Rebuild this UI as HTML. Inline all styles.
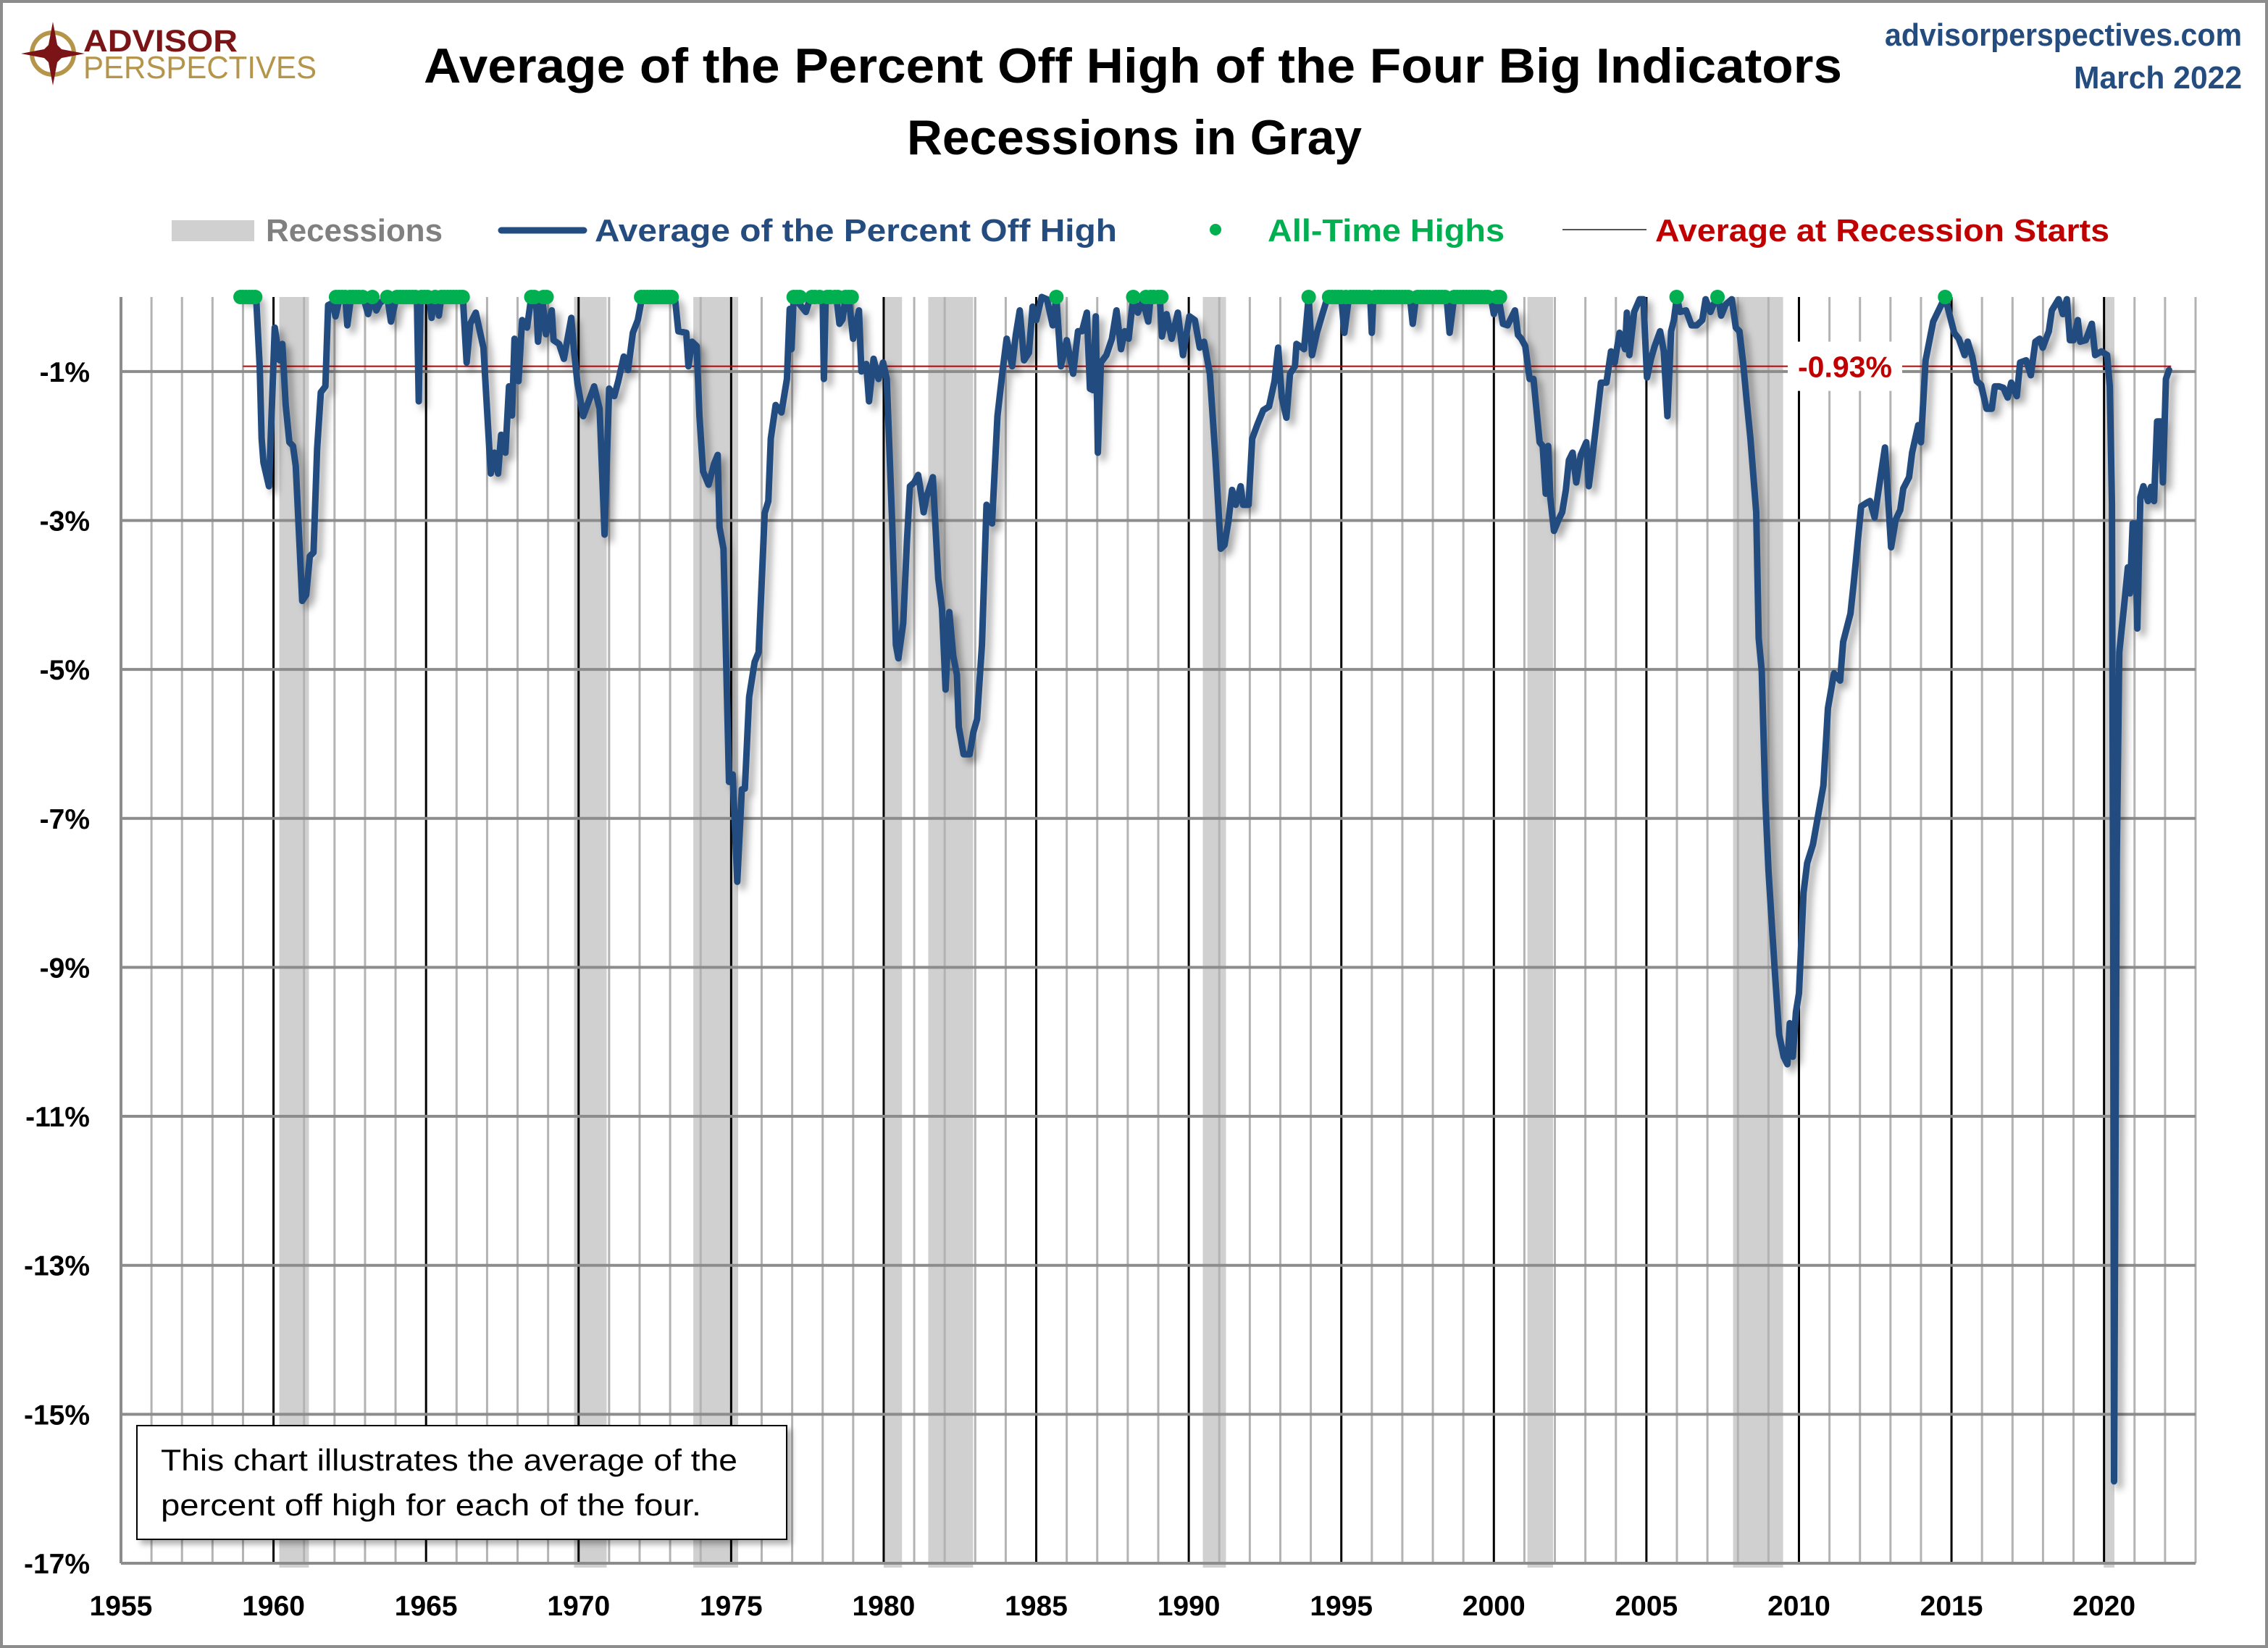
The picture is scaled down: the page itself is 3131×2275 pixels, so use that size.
<!DOCTYPE html>
<html><head><meta charset="utf-8">
<style>
html,body{margin:0;padding:0;background:#fff;}
svg{display:block;font-family:"Liberation Sans",sans-serif;}
</style></head>
<body>
<svg id="chart" width="3131" height="2275" viewBox="0 0 3131 2275" xmlns="http://www.w3.org/2000/svg">
<defs>
<filter id="sh" x="-5%" y="-5%" width="110%" height="110%"><feDropShadow dx="7" dy="7" stdDeviation="5" flood-color="#000" flood-opacity="0.35"/></filter>
<filter id="bsh" x="-5%" y="-5%" width="110%" height="120%"><feDropShadow dx="6" dy="6" stdDeviation="4" flood-color="#000" flood-opacity="0.3"/></filter>
</defs>
<rect x="2" y="2" width="3127" height="2271" fill="#fff" stroke="#8c8c8c" stroke-width="4"/>
<g id="logo">
<circle cx="73" cy="74" r="29" fill="none" stroke="#b4954a" stroke-width="6"/>
<polygon points="73,30 80,67 117,74 80,81 73,118 66,81 29,74 66,67" fill="#7b1416"/>
<polygon points="73,56 91,74 73,92 55,74" fill="#7b1416"/>
<text x="115" y="71" font-size="43" font-weight="bold" fill="#7b1416" textLength="213" lengthAdjust="spacingAndGlyphs">ADVISOR</text>
<text x="115" y="108" font-size="44" fill="#b4954a" textLength="322" lengthAdjust="spacingAndGlyphs">PERSPECTIVES</text>
</g>
<text x="585" y="114" font-size="68" font-weight="bold" fill="#000" textLength="1958" lengthAdjust="spacingAndGlyphs">Average of the Percent Off High of the Four Big Indicators</text>
<text x="1252" y="213" font-size="68" font-weight="bold" fill="#000" textLength="628" lengthAdjust="spacingAndGlyphs">Recessions in Gray</text>
<text x="3095" y="63" text-anchor="end" font-size="44" font-weight="bold" fill="#254c7f" textLength="493" lengthAdjust="spacingAndGlyphs">advisorperspectives.com</text>
<text x="3095" y="122" text-anchor="end" font-size="44" font-weight="bold" fill="#254c7f" textLength="232" lengthAdjust="spacingAndGlyphs">March 2022</text>

<g>
<rect x="237" y="304" width="114" height="29" fill="#d0d0d0"/>
<text x="367" y="333" font-size="44" font-weight="bold" fill="#808080" textLength="244" lengthAdjust="spacingAndGlyphs">Recessions</text>
<line x1="692" y1="318" x2="806" y2="318" stroke="#234c80" stroke-width="9" stroke-linecap="round"/>
<text x="821" y="333" font-size="44" font-weight="bold" fill="#254c7f" textLength="721" lengthAdjust="spacingAndGlyphs">Average of the Percent Off High</text>
<circle cx="1678" cy="317" r="8" fill="#00b050"/>
<text x="1750" y="333" font-size="44" font-weight="bold" fill="#00b050" textLength="327" lengthAdjust="spacingAndGlyphs">All-Time Highs</text>
<line x1="2157" y1="317" x2="2273" y2="317" stroke="#555" stroke-width="2"/>
<text x="2285" y="333" font-size="44" font-weight="bold" fill="#c00000" textLength="627" lengthAdjust="spacingAndGlyphs">Average at Recession Starts</text>
</g>
<g id="bands"></g>
<g id="grid"></g>
<g id="refline"></g>
<g id="series" filter="url(#sh)"></g>
<g id="dots"></g>
<g id="axes"></g>
<g filter="url(#bsh)">
<rect x="189" y="1968" width="897" height="157" fill="#fff" stroke="#000" stroke-width="2"/>
</g>
<text x="222" y="2030" font-size="42" fill="#000" textLength="796" lengthAdjust="spacingAndGlyphs">This chart illustrates the average of the</text>
<text x="222" y="2092" font-size="42" fill="#000" textLength="746" lengthAdjust="spacingAndGlyphs">percent off high for each of the four.</text>
</svg>
<script>
const years = [1958.92,1959.43,1959.55,1959.61,1959.67,1959.85,1960.04,1960.2,1960.29,1960.4,1960.52,1960.64,1960.73,1960.82,1960.94,1961.07,1961.19,1961.31,1961.43,1961.55,1961.7,1961.79,1961.94,1962.03,1962.18,1962.35,1962.42,1962.54,1962.94,1963.1,1963.24,1963.37,1963.49,1963.73,1963.85,1964.03,1964.7,1964.76,1964.82,1965.1,1965.18,1965.28,1965.36,1965.42,1965.5,1966.21,1966.33,1966.45,1966.63,1966.88,1967.12,1967.24,1967.36,1967.46,1967.6,1967.72,1967.82,1967.9,1968.03,1968.15,1968.31,1968.45,1968.6,1968.67,1968.81,1968.93,1969.12,1969.18,1969.36,1969.52,1969.76,1969.84,1969.96,1970.15,1970.33,1970.51,1970.69,1970.85,1971.0,1971.17,1971.3,1971.48,1971.62,1971.78,1971.94,1972.08,1973.05,1973.17,1973.27,1973.53,1973.6,1973.72,1973.87,1973.96,1974.08,1974.26,1974.44,1974.56,1974.62,1974.75,1974.93,1975.05,1975.2,1975.35,1975.45,1975.59,1975.77,1975.9,1976.1,1976.22,1976.3,1976.46,1976.65,1976.83,1976.92,1976.98,1977.05,1977.45,1977.6,1978.0,1978.04,1978.1,1978.45,1978.55,1978.65,1978.75,1978.85,1979.0,1979.19,1979.27,1979.43,1979.52,1979.67,1979.83,1979.98,1980.1,1980.28,1980.4,1980.48,1980.64,1980.76,1980.86,1981.0,1981.13,1981.19,1981.31,1981.4,1981.61,1981.79,1981.91,1982.03,1982.15,1982.28,1982.4,1982.46,1982.62,1982.82,1982.94,1983.06,1983.22,1983.37,1983.55,1983.73,1983.91,1984.03,1984.21,1984.33,1984.46,1984.6,1984.76,1984.88,1985.0,1985.18,1985.35,1985.54,1985.66,1985.81,1986.0,1986.21,1986.37,1986.5,1986.66,1986.76,1986.86,1986.95,1987.02,1987.12,1987.3,1987.48,1987.63,1987.78,1987.9,1988.03,1988.18,1988.33,1988.5,1988.67,1988.75,1989.05,1989.12,1989.27,1989.44,1989.64,1989.81,1990.02,1990.2,1990.36,1990.5,1990.69,1990.87,1991.05,1991.17,1991.3,1991.42,1991.54,1991.7,1991.78,1991.96,1992.08,1992.26,1992.44,1992.63,1992.81,1992.93,1993.05,1993.2,1993.32,1993.48,1993.53,1993.78,1993.93,1994.04,1994.2,1994.38,1994.55,1995.0,1995.1,1995.25,1995.95,1996.0,1996.05,1997.25,1997.34,1997.45,1998.45,1998.55,1998.7,1999.9,2000.0,2000.15,2000.3,2000.45,2000.69,2000.79,2000.9,2001.03,2001.17,2001.3,2001.5,2001.6,2001.7,2001.78,2001.85,2001.97,2002.12,2002.24,2002.36,2002.46,2002.58,2002.7,2002.85,2003.03,2003.11,2003.2,2003.33,2003.51,2003.69,2003.84,2003.96,2004.12,2004.3,2004.36,2004.44,2004.6,2004.78,2004.9,2005.02,2005.15,2005.27,2005.45,2005.57,2005.69,2005.81,2005.9,2006.0,2006.1,2006.3,2006.48,2006.65,2006.83,2006.94,2007.1,2007.2,2007.35,2007.45,2007.6,2007.8,2007.93,2008.05,2008.17,2008.29,2008.41,2008.6,2008.68,2008.78,2008.9,2009.0,2009.2,2009.35,2009.5,2009.62,2009.7,2009.8,2009.9,2010.0,2010.15,2010.27,2010.46,2010.8,2010.95,2011.15,2011.35,2011.45,2011.69,2011.79,2012.04,2012.23,2012.33,2012.48,2012.63,2012.82,2013.02,2013.17,2013.32,2013.42,2013.61,2013.71,2013.91,2014.0,2014.15,2014.4,2014.79,2015.09,2015.24,2015.43,2015.53,2015.68,2015.83,2015.97,2016.15,2016.32,2016.42,2016.56,2016.7,2016.84,2016.96,2017.14,2017.25,2017.45,2017.6,2017.75,2017.89,2017.99,2018.19,2018.29,2018.51,2018.65,2018.78,2018.88,2019.0,2019.14,2019.22,2019.4,2019.6,2019.71,2019.91,2020.1,2020.19,2020.26,2020.3,2020.33,2020.37,2020.42,2020.5,2020.65,2020.78,2020.85,2020.94,2021.02,2021.09,2021.19,2021.29,2021.44,2021.54,2021.64,2021.74,2021.86,2021.93,2022.03,2022.13];
const values = [0,0,-0.95,-1.9,-2.22,-2.54,-0.41,-0.85,-0.63,-1.45,-1.95,-2.0,-2.27,-3.04,-4.08,-4.0,-3.48,-3.43,-2.04,-1.28,-1.2,-0.11,-0.08,-0.26,0,0,-0.38,0,0,-0.23,0,-0.18,-0.08,0,-0.33,0,0,-1.4,0,0,-0.28,0,0,-0.25,0,-0.02,-0.88,-0.36,-0.21,-0.68,-2.37,-2.09,-2.37,-1.85,-2.09,-1.2,-1.59,-0.56,-1.13,-0.31,-0.41,0,0,-0.6,0,-0.5,-0.18,-0.58,-0.63,-0.83,-0.28,-0.68,-1.15,-1.6,-1.4,-1.2,-1.5,-3.19,-1.23,-1.33,-1.13,-0.8,-0.98,-0.48,-0.31,0,0,-0.06,-0.46,-0.48,-0.93,-0.6,-0.66,-1.6,-2.34,-2.52,-2.24,-2.12,-3.09,-3.38,-6.51,-6.41,-7.85,-6.61,-6.6,-5.37,-4.9,-4.77,-2.9,-2.74,-1.9,-1.45,-1.55,-1.1,-0.16,-0.7,0,-0.2,0,0,-1.1,0,0,-0.36,-0.3,0,0,-0.56,-0.18,-1.0,-0.9,-1.4,-0.83,-1.1,-0.88,-1.1,-3.04,-4.67,-4.85,-4.38,-3.29,-2.54,-2.49,-2.39,-2.54,-2.89,-2.69,-2.42,-3.78,-4.18,-5.27,-4.23,-4.82,-5.07,-5.77,-6.14,-6.14,-5.84,-5.67,-4.67,-2.79,-3.04,-1.6,-0.95,-0.56,-0.93,-0.51,-0.18,-0.85,-0.75,-0.13,-0.31,0,-0.03,-0.38,0,-0.93,-0.58,-1.03,-0.46,-0.46,-0.21,-1.23,-1.25,-0.26,-2.09,-0.88,-0.78,-0.56,-0.18,-0.7,-0.46,-0.56,0,-0.21,-0.05,-0.33,0,0,-0.53,-0.23,-0.56,-0.21,-0.78,-0.26,-0.31,-0.68,-0.6,-1.03,-2.14,-3.38,-3.33,-3.01,-2.59,-2.79,-2.54,-2.79,-2.79,-1.9,-1.7,-1.52,-1.47,-1.13,-0.68,-1.35,-1.62,-1.03,-0.93,-0.63,-0.7,0,-0.78,-0.48,-0.23,0,0,-0.48,0,0,-0.48,0,0,-0.36,0,0,-0.48,0,0,-0.23,0,-0.36,-0.38,-0.18,-0.51,-0.56,-0.66,-1.1,-1.1,-1.95,-2.0,-2.64,-2.0,-2.69,-3.14,-2.99,-2.89,-2.59,-2.19,-2.09,-2.49,-2.12,-1.95,-2.54,-2.24,-1.8,-1.15,-1.15,-0.73,-0.88,-0.48,-0.7,-0.21,-0.78,-0.2,-0.03,-0.03,-1.08,-0.83,-0.66,-0.46,-0.73,-1.6,-0.46,-0.31,0,-0.2,-0.18,-0.38,-0.38,-0.31,-0.03,-0.2,-0.1,0,-0.25,-0.1,-0.03,-0.41,-0.46,-0.88,-1.4,-1.9,-2.89,-4.58,-5.02,-6.76,-7.7,-9.0,-9.9,-10.2,-10.3,-9.75,-10.2,-9.6,-9.35,-8.0,-7.6,-7.35,-6.56,-5.52,-5.05,-5.15,-4.63,-4.25,-3.86,-2.81,-2.76,-2.74,-2.96,-2.54,-2.02,-3.36,-2.99,-2.86,-2.57,-2.42,-2.09,-1.72,-1.95,-0.85,-0.33,0,-0.48,-0.56,-0.78,-0.6,-0.8,-1.13,-1.18,-1.5,-1.5,-1.2,-1.2,-1.22,-1.35,-1.15,-1.33,-0.88,-0.85,-1.05,-0.6,-0.56,-0.68,-0.46,-0.18,-0.03,-0.23,-0.03,-0.58,-0.58,-0.31,-0.6,-0.58,-0.36,-0.78,-0.73,-0.78,-1.2,-2.79,-8.5,-15.9,-12.0,-7.5,-4.77,-4.18,-3.63,-3.98,-3.04,-3.04,-4.45,-2.69,-2.54,-2.74,-2.55,-2.74,-1.67,-1.67,-2.49,-1.1,-0.98];
const athYears = [1958.92,1959.0,1959.1,1959.2,1959.3,1959.4,1962.05,1962.15,1962.25,1962.35,1962.5,1962.6,1962.7,1962.8,1962.92,1963.24,1963.73,1964.05,1964.15,1964.25,1964.35,1964.45,1964.55,1964.65,1964.85,1964.95,1965.05,1965.3,1965.5,1965.6,1965.7,1965.8,1965.9,1966.0,1966.1,1966.2,1968.45,1968.55,1968.85,1968.95,1972.05,1972.15,1972.25,1972.35,1972.45,1972.55,1972.65,1972.75,1972.85,1972.95,1973.05,1977.05,1977.15,1977.25,1977.65,1977.75,1977.9,1978.15,1978.25,1978.4,1978.5,1978.75,1978.85,1978.95,1985.66,1988.18,1988.6,1988.75,1988.85,1989.0,1989.1,1993.93,1994.6,1994.7,1994.8,1994.9,1995.0,1995.15,1995.3,1995.4,1995.5,1995.6,1995.7,1995.8,1995.9,1996.1,1996.2,1996.3,1996.4,1996.5,1996.6,1996.7,1996.8,1996.9,1997.0,1997.1,1997.2,1997.5,1997.6,1997.7,1997.8,1997.9,1998.0,1998.1,1998.2,1998.3,1998.4,1998.7,1998.8,1998.9,1999.0,1999.1,1999.2,1999.3,1999.4,1999.5,1999.6,1999.7,1999.8,2000.1,2000.2,2005.99,2007.33,2014.79];
const recStart = [1960.19,1969.85,1973.76,1980.0,1981.46,1990.46,2001.1,2007.84,2019.99];
const recEnd = [1961.16,1970.92,1975.23,1980.6,1982.93,1991.22,2001.94,2009.48,2020.34];
const yTicks = [-1,-3,-5,-7,-9,-11,-13,-15,-17];
const xTicks = [1955,1960,1965,1970,1975,1980,1985,1990,1995,2000,2005,2010,2015,2020];
const recessionAvg = [-0.93];

const NS = 'http://www.w3.org/2000/svg';
const X0 = 167, X1 = 3031, Y0 = 410, Y1 = 2158, YMIN = 1955, YMAX = 2023, VMIN = -17;
function xs(y){ return X0 + (y - YMIN) / (YMAX - YMIN) * (X1 - X0); }
function ys(v){ return Y0 + (v / VMIN) * (Y1 - Y0); }
function mk(tag, attrs, parent){ const e = document.createElementNS(NS, tag); for (const k in attrs) e.setAttribute(k, attrs[k]); parent.appendChild(e); return e; }

const bands = document.getElementById('bands');
for (let i = 0; i < recStart.length; i++) {
  const r = mk('rect', {x: xs(recStart[i]), y: Y0, width: xs(recEnd[i]) - xs(recStart[i]), height: Y1 - Y0 + 6, fill: '#d0d0d0'}, bands);
  
  
}
const grid = document.getElementById('grid');
for (let y = 1956; y <= 2023; y++) {
  const major = (y % 5 === 0);
  const l = mk('line', {x1: xs(y), x2: xs(y), y1: Y0, y2: Y1, stroke: major ? '#000' : '#b3b3b3', 'stroke-width': 3}, grid);
  
  
}
yTicks.forEach(v => {
  const l = mk('line', {x1: X0, x2: X1, y1: ys(v), y2: ys(v), stroke: '#8c8c8c', 'stroke-width': 4}, grid);
  
  
});
const ref = document.getElementById('refline');
const rl = mk('line', {x1: xs(1959), x2: xs(2022.2), y1: ys(recessionAvg[0]), y2: ys(recessionAvg[0]), stroke: '#c00000', 'stroke-width': 2}, ref);


const lb = mk('rect', {x: 2468, y: ys(recessionAvg[0]) - 34, width: 158, height: 68, fill: '#fff'}, ref);


const lt = mk('text', {x: 2547, y: ys(recessionAvg[0]) + 15, 'text-anchor': 'middle', 'font-size': 41, 'font-weight': 'bold', fill: '#c00000'}, ref);
lt.textContent = recessionAvg[0].toFixed(2) + '%';



const series = document.getElementById('series');
let d = '';
for (let i = 0; i < years.length; i++) d += (i ? 'L' : 'M') + xs(years[i]).toFixed(1) + ',' + ys(values[i]).toFixed(1);
const path = mk('path', {d: d, fill: 'none', stroke: '#234c80', 'stroke-width': 9, 'stroke-linejoin': 'round', 'stroke-linecap': 'round'}, series);



const dots = document.getElementById('dots');
athYears.forEach(y => {
  const c = mk('circle', {cx: xs(y), cy: ys(0), r: 10, fill: '#00b050'}, dots);
  
  
});

const axes = document.getElementById('axes');
const ax1 = mk('line', {x1: X0, x2: X0, y1: Y0, y2: Y1, stroke: '#8c8c8c', 'stroke-width': 4}, axes);


const ax2 = mk('line', {x1: X0, x2: X1, y1: Y1, y2: Y1, stroke: '#8c8c8c', 'stroke-width': 4}, axes);


yTicks.forEach(v => {
  const t = mk('text', {x: 124, y: ys(v) + 14, 'text-anchor': 'end', 'font-size': 39, 'font-weight': 'bold', fill: '#000'}, axes);
  t.textContent = v + '%';
  
  
});
xTicks.forEach(y => {
  const t = mk('text', {x: xs(y), y: 2230, 'text-anchor': 'middle', 'font-size': 39, 'font-weight': 'bold', fill: '#000'}, axes);
  t.textContent = y;
  
  
});
</script>
</body></html>
